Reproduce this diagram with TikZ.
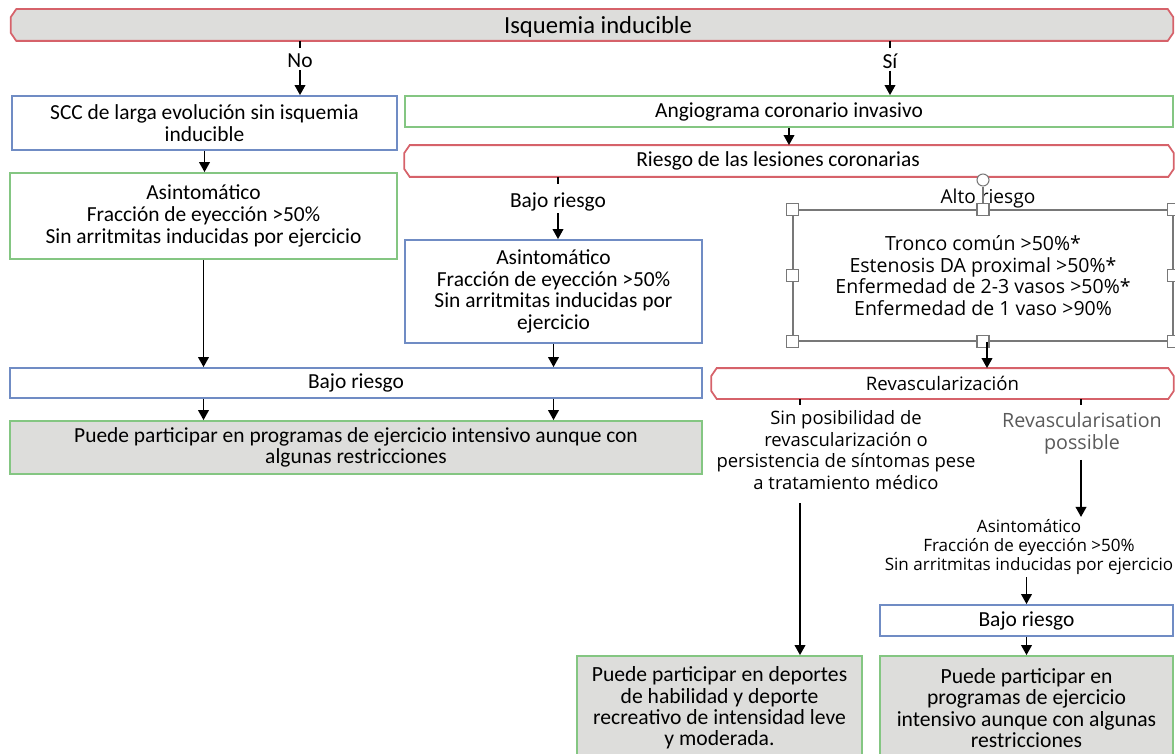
\documentclass[tikz,border=0pt]{standalone}
\usepackage{fontspec}
\setmainfont{Carlito}
\newfontfamily\wideface{Open Sans}
\usetikzlibrary{arrows.meta}

\definecolor{redline}{RGB}{214,98,106}
\definecolor{blueline}{RGB}{112,140,196}
\definecolor{greenline}{RGB}{132,198,130}
\definecolor{boxgray}{RGB}{221,221,219}
\definecolor{handlegray}{RGB}{120,120,120}
\definecolor{softtext}{RGB}{90,90,90}

\tikzset{
  base/.style={draw,line width=1pt,align=center,inner sep=0pt,
    font=\fontsize{12.2}{12.3}\selectfont},
  redbox/.style={base,draw=none,append after command={\pgfextra{
    \draw[draw=redline,line width=1pt,fill=#1]
    ([xshift=0.11cm]\tikzlastnode.north west) -- ([xshift=-0.11cm]\tikzlastnode.north east)
    -- ([yshift=-0.16cm]\tikzlastnode.north east) -- ([yshift=0.16cm]\tikzlastnode.south east)
    -- ([xshift=-0.11cm]\tikzlastnode.south east) -- ([xshift=0.11cm]\tikzlastnode.south west)
    -- ([yshift=0.16cm]\tikzlastnode.south west) -- ([yshift=-0.16cm]\tikzlastnode.north west)
    -- cycle;}}},
  redbox/.default=none,
  bluebox/.style={base,draw=blueline},
  greenbox/.style={base,draw=greenline},
  outbox/.style={greenbox,fill=boxgray},
  lbl/.style={align=center,inner sep=1pt,font=\fontsize{12.2}{12.3}\selectfont},
  widelbl/.style={align=center,inner sep=1pt,font=\wideface\fontsize{10.5}{12.2}\selectfont},
  handle/.style={draw=handlegray,fill=white,line width=0.6pt,
    minimum size=0.24cm,inner sep=0pt},
  arr/.style={-{Triangle[length=2mm,width=2.1mm]},line width=1.1pt},
  tick/.style={line width=1.1pt},
}

\begin{document}
\begin{tikzpicture}[x=0.02cm,y=-0.02cm]
\useasboundingbox (0,0) rectangle (1175,753);
% ---------- top ----------
\node[redbox=boxgray,minimum width=23.22cm,minimum height=0.6cm] (isq) at (592,25) {};
\node[lbl,font=\fontsize{14}{14}\selectfont] at (598,27) {Isquemia inducible};
\node[lbl] (no) at (300,61) {No};
\node[lbl] (si) at (890,61) {Sí};
\draw[tick] (isq.south -| no.north) -- ++(0,7);
\draw[tick] (isq.south -| si.north) -- ++(0,7);
% ---------- left column ----------
\node[bluebox,minimum width=7.7cm,minimum height=1.08cm] (scc) at (204.5,123)
  {SCC de larga evolución sin isquemia\\inducible};
\node[greenbox,minimum width=7.74cm,minimum height=1.72cm] (asin1) at (203.5,216)
  {Asintomático\\Fracción de eyección >50\%\\Sin arritmitas inducidas por ejercicio};
\draw[arr] (no.south) -- (no.south |- scc.north);
\draw[arr] (scc.south) -- (scc.south |- asin1.north);
% ---------- middle column ----------
\node[greenbox,minimum width=15.36cm,minimum height=0.62cm] (angio) at (789,111.5)
  {Angiograma coronario invasivo};
\node[redbox,minimum width=15.36cm,minimum height=0.6cm] (riesgo) at (789,161) {};
\node[lbl] at (778,161) {Riesgo de las lesiones coronarias};
\draw[arr] (si.south) -- (si.south |- angio.north);
\draw[arr] (angio.south) -- (angio.south |- riesgo.north);
\node[lbl] (bajo0) at (558,202) {Bajo riesgo};
\draw[tick] (riesgo.south -| bajo0.north) -- ++(0,7);
\node[bluebox,minimum width=5.94cm,minimum height=2.06cm] (asin2) at (553.5,291.5)
  {Asintomático\\Fracción de eyección >50\%\\Sin arritmitas inducidas por\\ejercicio};
\draw[arr] (bajo0.south) -- (bajo0.south |- asin2.north);
\node[bluebox,minimum width=13.84cm,minimum height=0.6cm] (bajo1) at (356,383) {Bajo riesgo};
\node[outbox,minimum width=13.84cm,minimum height=1.06cm] (out1) at (356,447.5)
  {Puede participar en programas de ejercicio intensivo aunque con\\algunas restricciones};
\draw[arr] (asin1.south) -- (asin1.south |- bajo1.north);
\draw[arr] (asin2.south) -- (asin2.south |- bajo1.north);
\draw[arr] (bajo1.south -| asin1.south) -- (asin1.south |- out1.north);
\draw[arr] (bajo1.south -| asin2.south) -- (asin2.south |- out1.north);
% ---------- right column ----------
\node[widelbl,font=\wideface\fontsize{10.9}{12}\selectfont] (alto) at (988,199) {Alto riesgo};
\node[draw=handlegray,line width=0.9pt,minimum width=7.6cm,minimum height=2.62cm,
  align=center,font=\wideface\fontsize{11.1}{12.3}\selectfont] (altobox) at (983,275.5)
  {Tronco común >50\%*\\Estenosis DA proximal >50\%*\\Enfermedad de 2-3 vasos >50\%*\\Enfermedad de 1 vaso >90\%};
\node[draw=handlegray,fill=white,circle,minimum size=0.24cm,inner sep=0pt,line width=0.6pt] (rot) at (983,180) {};
\draw[handlegray,line width=0.6pt] (rot.south) -- (rot.south |- altobox.north);
\foreach \a in {north west,north,north east,west,east,south west,south,south east}
  \node[handle] at (altobox.\a) {};
\node[redbox,minimum width=9.22cm,minimum height=0.58cm,font=\wideface\fontsize{10.6}{12}\selectfont] (revasc) at (942.5,383.5)
  {Revascularización};
\draw[arr] (altobox.south) ++(4,0) coordinate (a1) -- (a1 |- revasc.north);
\node[widelbl] (sinpos) at (846,450)
  {Sin posibilidad de\\revascularización o\\persistencia de síntomas pese\\a tratamiento médico};
\node[widelbl,text=softtext,font=\wideface\fontsize{11.2}{12.4}\selectfont] (posible) at (1082,433)
  {Revascularisation\\possible};
\coordinate (t1) at (800,405);
\coordinate (t2) at (1081,405);
\draw[tick] (revasc.south -| t1) -- (t1);
\draw[tick] (revasc.south -| t2) -- (t2);
\node[widelbl,font=\wideface\fontsize{9.7}{11}\selectfont] (asin3) at (1029,547)
  {Asintomático\\Fracción de eyección >50\%\\Sin arritmitas inducidas por ejercicio};
\node[bluebox,minimum width=5.86cm,minimum height=0.62cm] (bajo2) at (1026.5,620.5) {Bajo riesgo};
\node[outbox,minimum width=5.7cm,minimum height=2.08cm,font=\fontsize{12.3}{12.1}\selectfont] (out2) at (719.5,708)
  {Puede participar en deportes\\de habilidad y deporte\\recreativo de intensidad leve\\y moderada.};
\node[outbox,minimum width=5.86cm,minimum height=2.08cm,font=\fontsize{12.3}{12.1}\selectfont] (out3) at (1026.5,708)
  {Puede participar en\\programas de ejercicio\\intensivo aunque con algunas\\restricciones};
\draw[arr] (sinpos.south -| t1) ++(0,12) coordinate (s1) -- (s1 |- out2.north);
\draw[arr] (posible.south -| t2) ++(0,4) coordinate (s2) -- (s2 |- asin3.north);
\draw[arr] (asin3.south -| bajo2.north) coordinate (s3) -- (bajo2.north);
\draw[arr] (bajo2.south) -- (bajo2.south |- out3.north);
\end{tikzpicture}
\end{document}
